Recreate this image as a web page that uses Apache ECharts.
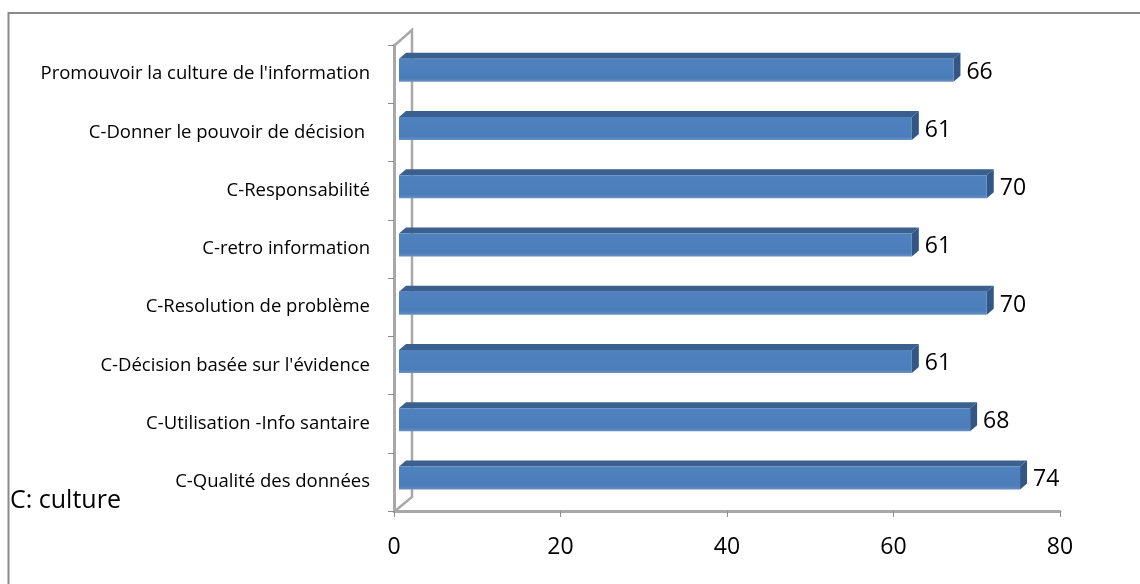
<!DOCTYPE html>
<html>
<head>
<meta charset="utf-8">
<script src="https://cdn.jsdelivr.net/npm/echarts@6/dist/echarts.min.js"></script>
<style>
html,body{margin:0;padding:0;background:#fff;}
#chart{width:1140px;height:584px;}
</style>
</head>
<body>
<div id="chart"></div>
<script>
// Categories listed from bottom to top
var categories = [
  "C-Qualité des données",
  "C-Utilisation -Info santaire",
  "C-Décision basée sur l'évidence",
  "C-Resolution de problème",
  "C-retro information",
  "C-Responsabilité",
  "C-Donner le pouvoir de décision ",
  "Promouvoir la culture de l'information"
];
var values = [74, 68, 61, 70, 61, 70, 61, 66];
var xTicks = [0, 20, 40, 60, 80];
var noteText = "C: culture";

var FONT = "'Open Sans', 'Noto Sans', sans-serif";
var chart = echarts.init(document.getElementById('chart'), null, {renderer: 'canvas'});

var gridLeft = 394, gridTop = 45, gridRight = 80, gridBottom = 73;

var option = {
  backgroundColor: '#ffffff',
  animation: false,
  grid: {left: gridLeft, top: gridTop, right: gridRight, bottom: gridBottom, containLabel: false},
  xAxis: {
    type: 'value',
    min: xTicks[0], max: xTicks[xTicks.length - 1], interval: 20,
    axisLine: {show: true, lineStyle: {color: '#a8a8a8', width: 3}},
    axisTick: {show: true, length: 6, lineStyle: {color: '#8c8c8c', width: 1}},
    splitLine: {show: false},
    axisLabel: {fontFamily: FONT, fontSize: 23, color: '#000', margin: 25}
  },
  yAxis: {
    type: 'category',
    data: categories,
    axisLine: {show: true, lineStyle: {color: '#a8a8a8', width: 3}},
    axisTick: {show: true, length: 6, inside: false, lineStyle: {color: '#8c8c8c', width: 1}},
    splitLine: {show: false},
    axisLabel: {fontFamily: FONT, fontSize: 18.5, color: '#000', margin: 24}
  },
  graphic: [
    {type: 'rect', shape: {x: 8.5, y: 13, width: 1200, height: 700},
     style: {fill: 'none', stroke: '#8a8a8a', lineWidth: 2}, z: 0},
    // back wall line and diagonals (3D side wall)
    {type: 'polyline', shape: {points: [[395, 45], [412, 30], [412, 497], [395, 511]]},
     style: {fill: 'none', stroke: '#a8a8a8', lineWidth: 2.5}, z: 1},
    {type: 'text', left: 10, top: 488,
     style: {text: noteText, font: '25px ' + FONT, fill: '#000'}, z: 5}
  ],
  series: [{
    type: 'custom',
    coordinateSystem: 'cartesian2d',
    encode: {x: 0, y: 1},
    data: values.map(function (v, i) { return [v, i]; }),
    renderItem: function (params, api) {
      var v = api.value(0), idx = api.value(1);
      var p0 = api.coord([0, idx]);
      var p1 = api.coord([v, idx]);
      var cy = p0[1] - 4;
      var h = 23, dx = 7, dy = 6;
      var x0 = p0[0] + 5, x1 = p1[0] + 10;
      var y0 = cy - h / 2, y1 = cy + h / 2;
      return {
        type: 'group',
        children: [
          {type: 'polygon', shape: {points: [[x0, y0], [x0 + dx, y0 - dy], [x1 + dx, y0 - dy], [x1, y0]]},
           style: {fill: '#3a6090'}},
          {type: 'polygon', shape: {points: [[x1, y0], [x1 + dx, y0 - dy], [x1 + dx, y1 - dy], [x1, y1]]},
           style: {fill: '#335684'}},
          {type: 'rect', shape: {x: x0, y: y0, width: x1 - x0, height: h},
           style: {fill: new echarts.graphic.LinearGradient(0, 0, 0, 1, [
             {offset: 0, color: '#4f82bf'}, {offset: 0.85, color: '#4a7dba'}, {offset: 1, color: '#6a8fc2'}])}},
          {type: 'text', x: x1 + dx + 6, y: cy + 2,
           style: {text: String(v), font: '23px ' + FONT, fill: '#000', textVerticalAlign: 'middle', textAlign: 'left'}}
        ]
      };
    },
    z: 3
  }]
};
chart.setOption(option);
</script>
</body>
</html>
